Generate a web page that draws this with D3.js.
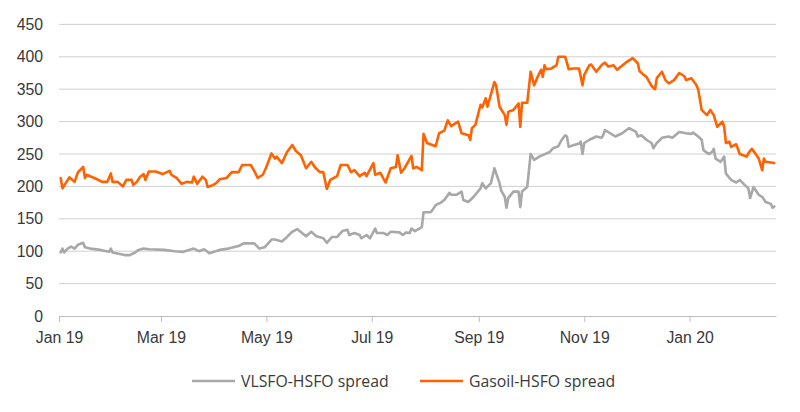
<!DOCTYPE html>
<html><head><meta charset="utf-8">
<script src="https://cdn.jsdelivr.net/npm/d3@7"></script>
<style>
html,body{margin:0;padding:0;background:#fff;}
svg{display:block;font-family:"Open Sans",Lato,sans-serif;}
</style></head>
<body><svg id="chart" width="800" height="412"></svg>
<script>
// ---------- data ----------
const yTicks = [0, 50, 100, 150, 200, 250, 300, 350, 400, 450];
const xTickDates = ["2019-01-01","2019-03-01","2019-05-01","2019-07-01","2019-09-01","2019-11-01","2020-01-01"];
const xTickLabels = ["Jan 19","Mar 19","May 19","Jul 19","Sep 19","Nov 19","Jan 20"];
const seriesNames = ["VLSFO-HSFO spread", "Gasoil-HSFO spread"];

const vlsfoDates = ["2019-01-02","2019-01-03","2019-01-04","2019-01-06","2019-01-08","2019-01-10","2019-01-12","2019-01-15","2019-01-16","2019-01-19","2019-01-25","2019-01-30","2019-01-31","2019-02-01","2019-02-08","2019-02-11","2019-02-14","2019-02-16","2019-02-19","2019-02-22","2019-03-03","2019-03-09","2019-03-14","2019-03-20","2019-03-23","2019-03-26","2019-03-29","2019-04-04","2019-04-09","2019-04-15","2019-04-18","2019-04-24","2019-04-27","2019-04-30","2019-05-04","2019-05-06","2019-05-10","2019-05-13","2019-05-16","2019-05-19","2019-05-24","2019-05-27","2019-05-30","2019-06-03","2019-06-05","2019-06-08","2019-06-11","2019-06-14","2019-06-17","2019-06-18","2019-06-21","2019-06-24","2019-06-25","2019-06-28","2019-06-30","2019-07-03","2019-07-04","2019-07-08","2019-07-10","2019-07-12","2019-07-17","2019-07-19","2019-07-21","2019-07-23","2019-07-24","2019-07-26","2019-07-28","2019-07-30","2019-07-31","2019-08-04","2019-08-05","2019-08-07","2019-08-10","2019-08-12","2019-08-15","2019-08-16","2019-08-19","2019-08-22","2019-08-23","2019-08-26","2019-08-29","2019-09-02","2019-09-03","2019-09-05","2019-09-08","2019-09-10","2019-09-13","2019-09-14","2019-09-16","2019-09-17","2019-09-18","2019-09-21","2019-09-24","2019-09-25","2019-09-26","2019-09-29","2019-10-01","2019-10-03","2019-10-06","2019-10-12","2019-10-14","2019-10-17","2019-10-19","2019-10-21","2019-10-22","2019-10-23","2019-10-26","2019-10-29","2019-10-30","2019-10-31","2019-11-01","2019-11-04","2019-11-08","2019-11-11","2019-11-12","2019-11-13","2019-11-16","2019-11-19","2019-11-23","2019-11-27","2019-12-01","2019-12-02","2019-12-04","2019-12-07","2019-12-10","2019-12-11","2019-12-13","2019-12-16","2019-12-20","2019-12-22","2019-12-26","2019-12-30","2020-01-02","2020-01-03","2020-01-06","2020-01-08","2020-01-09","2020-01-12","2020-01-14","2020-01-15","2020-01-16","2020-01-19","2020-01-21","2020-01-22","2020-01-25","2020-01-28","2020-01-30","2020-02-02","2020-02-04","2020-02-05","2020-02-07","2020-02-10","2020-02-12","2020-02-14","2020-02-17","2020-02-18","2020-02-19"];
const vlsfoValues = [98,104,98,104,107,104,110,113,106,104,102,99,104,98,94,94,98,102,104,103,102,100,99,104,100,103,97,102,104,108,112,112,104,106,118,118,115,122,130,134,123,130,123,120,113,122,122,131,133,125,128,125,120,125,120,135,128,128,125,130,129,125,129,128,135,131,134,137,160,160,163,171,175,179,190,187,187,192,179,176,184,197,205,197,205,228,205,193,184,167,182,192,192,168,192,199,250,241,246,253,259,262,272,279,277,261,264,266,269,250,267,272,277,275,279,287,282,277,282,290,284,277,279,272,267,259,267,275,277,275,284,282,281,283,277,272,256,250,253,258,243,238,246,220,210,206,210,202,197,182,199,187,184,176,173,167,169];

const gasoilDates = ["2019-01-02","2019-01-03","2019-01-07","2019-01-10","2019-01-12","2019-01-15","2019-01-16","2019-01-17","2019-01-23","2019-01-26","2019-01-29","2019-01-31","2019-02-01","2019-02-04","2019-02-07","2019-02-09","2019-02-12","2019-02-13","2019-02-15","2019-02-17","2019-02-19","2019-02-20","2019-02-22","2019-02-26","2019-03-02","2019-03-06","2019-03-07","2019-03-10","2019-03-13","2019-03-16","2019-03-19","2019-03-20","2019-03-22","2019-03-25","2019-03-27","2019-03-28","2019-03-31","2019-04-02","2019-04-04","2019-04-08","2019-04-11","2019-04-15","2019-04-17","2019-04-22","2019-04-24","2019-04-26","2019-04-29","2019-05-01","2019-05-04","2019-05-06","2019-05-07","2019-05-10","2019-05-13","2019-05-16","2019-05-18","2019-05-21","2019-05-24","2019-05-27","2019-05-29","2019-06-01","2019-06-03","2019-06-05","2019-06-07","2019-06-11","2019-06-13","2019-06-17","2019-06-19","2019-06-21","2019-06-24","2019-06-27","2019-06-28","2019-07-02","2019-07-03","2019-07-06","2019-07-09","2019-07-12","2019-07-15","2019-07-16","2019-07-18","2019-07-20","2019-07-24","2019-07-25","2019-07-27","2019-07-30","2019-07-31","2019-08-02","2019-08-07","2019-08-09","2019-08-12","2019-08-14","2019-08-16","2019-08-20","2019-08-22","2019-08-26","2019-08-27","2019-08-28","2019-08-30","2019-09-02","2019-09-03","2019-09-05","2019-09-06","2019-09-10","2019-09-11","2019-09-13","2019-09-16","2019-09-17","2019-09-18","2019-09-21","2019-09-24","2019-09-25","2019-09-26","2019-09-29","2019-10-01","2019-10-03","2019-10-05","2019-10-07","2019-10-08","2019-10-09","2019-10-10","2019-10-13","2019-10-16","2019-10-17","2019-10-21","2019-10-23","2019-10-26","2019-10-29","2019-10-31","2019-11-01","2019-11-04","2019-11-05","2019-11-08","2019-11-11","2019-11-13","2019-11-15","2019-11-18","2019-11-20","2019-11-25","2019-11-29","2019-12-02","2019-12-03","2019-12-05","2019-12-07","2019-12-10","2019-12-12","2019-12-13","2019-12-16","2019-12-18","2019-12-20","2019-12-23","2019-12-26","2019-12-29","2019-12-30","2020-01-02","2020-01-05","2020-01-06","2020-01-08","2020-01-11","2020-01-13","2020-01-15","2020-01-17","2020-01-20","2020-01-21","2020-01-22","2020-01-24","2020-01-25","2020-01-28","2020-01-30","2020-02-03","2020-02-04","2020-02-06","2020-02-08","2020-02-10","2020-02-12","2020-02-13","2020-02-14","2020-02-17","2020-02-19"];
const gasoilValues = [213,197,214,207,222,230,213,218,211,207,207,220,207,207,200,210,210,202,207,215,219,210,223,223,219,224,218,213,204,207,206,215,204,215,210,199,202,205,211,213,222,222,233,233,224,213,218,230,251,243,246,236,253,264,255,248,228,238,230,222,222,196,210,216,233,233,222,225,216,221,216,236,218,221,206,228,230,248,221,228,247,228,230,225,281,267,262,282,286,302,293,300,282,279,272,290,295,326,322,336,323,361,356,323,310,295,315,318,328,292,329,329,377,356,369,380,369,387,381,382,387,400,400,381,382,382,356,372,387,388,377,387,391,385,387,380,391,398,390,378,373,369,355,350,367,377,364,359,364,375,370,364,367,356,349,318,310,318,310,292,300,292,267,269,261,265,250,246,251,258,251,243,225,243,238,237,236];

// ---------- chart ----------
const parse = d3.timeParse("%Y-%m-%d");
const svg = d3.select("#chart");
const x = d3.scaleTime().domain([parse("2019-01-01"), parse("2020-02-20")]).range([59, 776]);
const y = d3.scaleLinear().domain([0, 450]).range([316, 24.4]);
const textColor = "#3a3a3a";
const gridColor = "#d0d0d0";
const colors = ["#A8A8A8", "#FF6200"];
const fontSize = "15.8px";

// gridlines
svg.append("g").selectAll("line").data(yTicks.filter(v => v > 0)).join("line")
  .attr("x1", x.range()[0]).attr("x2", x.range()[1])
  .attr("y1", d => y(d)).attr("y2", d => y(d))
  .attr("stroke", gridColor).attr("stroke-width", 1);

// y labels
const yAxis = d3.axisLeft(y).tickValues(yTicks).tickSize(0).tickPadding(0);
const gy = svg.append("g").attr("transform", "translate(43,0)").call(yAxis);
gy.select(".domain").remove();
gy.selectAll("text").attr("fill", textColor).style("font-size", fontSize).attr("font-family", null);

// x axis
const xAxis = d3.axisBottom(x)
  .tickValues(xTickDates.map(parse))
  .tickFormat((d, i) => xTickLabels[i])
  .tickSize(6).tickSizeOuter(0).tickPadding(10);
const gx = svg.append("g").attr("transform", "translate(0,316)").call(xAxis);
gx.select(".domain").attr("stroke", "#bdbdbd");
gx.selectAll(".tick line").attr("stroke", "#bdbdbd");
gx.selectAll("text").attr("fill", textColor).style("font-size", fontSize).attr("font-family", null);

// lines
const series = [
  {name: seriesNames[0], dates: vlsfoDates, values: vlsfoValues, color: colors[0]},
  {name: seriesNames[1], dates: gasoilDates, values: gasoilValues, color: colors[1]}
];
const line = d3.line().x(d => x(d[0])).y(d => y(d[1]));
series.forEach(s => {
  const pts = s.dates.map((d, i) => [parse(d), s.values[i]]);
  svg.append("path").datum(pts).attr("d", line)
    .attr("fill", "none").attr("stroke", s.color).attr("stroke-width", 2.6)
    .attr("stroke-linejoin", "round").attr("stroke-linecap", "round");
});

// legend
const legendX = [192, 420];
const leg = svg.append("g");
series.forEach((s, i) => {
  leg.append("line").attr("x1", legendX[i]).attr("x2", legendX[i] + 43)
    .attr("y1", 381).attr("y2", 381).attr("stroke", s.color).attr("stroke-width", 2.6);
  leg.append("text").attr("x", legendX[i] + 49).attr("y", 386.5)
    .attr("fill", textColor).style("font-size", fontSize).text(s.name);
});
</script>
</body></html>
